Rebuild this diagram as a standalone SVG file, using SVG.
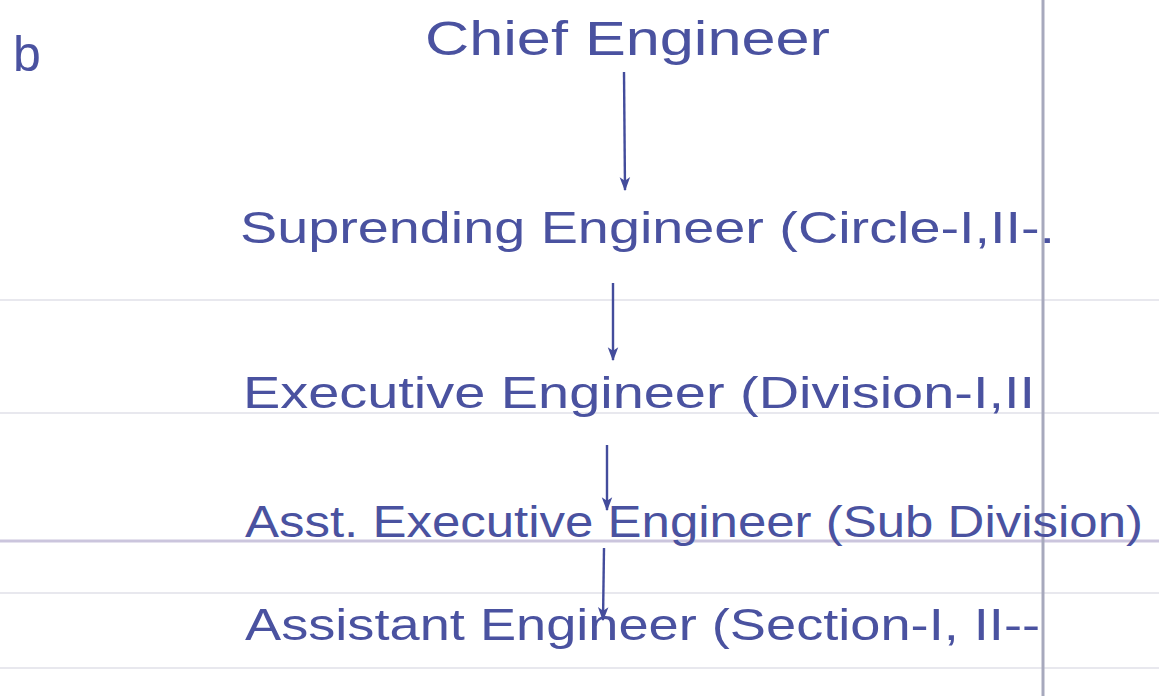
<svg xmlns="http://www.w3.org/2000/svg" width="1159" height="696" viewBox="0 0 1159 696">
  <defs>
    <!-- small solid arrowhead, tip at the end of the line -->
    <marker id="head" viewBox="0 0 12 10" refX="11" refY="5" markerWidth="14" markerHeight="12" markerUnits="userSpaceOnUse" orient="auto">
      <path d="M0,0.5 L12,5 L0,9.5 L3,5 Z" fill="#434c9c"/>
    </marker>
    <style>
      .ink { font-family: "Liberation Sans", "DejaVu Sans", sans-serif; fill: #4a52a0; font-weight: normal; }
      .row { font-size: 44px; }
      .rule { stroke: #e0e1e8; stroke-width: 1.5; }
      .edge { stroke: #434c9c; stroke-width: 2.4; fill: none; marker-end: url(#head); }
    </style>
  </defs>

  <!-- paper -->
  <rect x="0" y="0" width="1159" height="696" fill="#ffffff"/>
  <g id="paper-lines">
    <line class="rule" x1="0" y1="300" x2="1159" y2="300"/>
    <line class="rule" x1="0" y1="413" x2="1159" y2="413"/>
    <line x1="0" y1="541" x2="1159" y2="541" stroke="#cbc5dd" stroke-width="3"/>
    <line class="rule" x1="0" y1="593" x2="1159" y2="593"/>
    <line class="rule" x1="0" y1="668" x2="1159" y2="668"/>
    <line x1="1043" y1="0" x2="1043" y2="696" stroke="#a7a9bd" stroke-width="3"/>
  </g>

  <g id="label-b">
    <text class="ink" x="13" y="71" font-size="50">b</text>
  </g>

  <g id="chief-engineer">
    <text class="ink" x="425" y="55" font-size="48" textLength="405" lengthAdjust="spacingAndGlyphs">Chief Engineer</text>
  </g>

  <g id="superintending-engineer">
    <text class="ink row" x="240" y="243" textLength="815" lengthAdjust="spacingAndGlyphs">Suprending Engineer (Circle-I,II-.</text>
  </g>

  <g id="executive-engineer">
    <text class="ink row" x="243" y="408" textLength="792" lengthAdjust="spacingAndGlyphs">Executive Engineer (Division-I,II</text>
  </g>

  <g id="asst-executive-engineer">
    <text class="ink row" x="245" y="537" textLength="898" lengthAdjust="spacingAndGlyphs">Asst. Executive Engineer (Sub Division)</text>
  </g>

  <g id="assistant-engineer">
    <text class="ink row" x="245" y="640" textLength="795" lengthAdjust="spacingAndGlyphs">Assistant Engineer (Section-I, II--</text>
  </g>

  <g id="connectors">
    <path class="edge" d="M624,72 L625,190"/>
    <path class="edge" d="M613,283 L613,360"/>
    <path class="edge" d="M607,445 L607,510"/>
    <path class="edge" d="M604,548 L603,620"/>
  </g>
</svg>
